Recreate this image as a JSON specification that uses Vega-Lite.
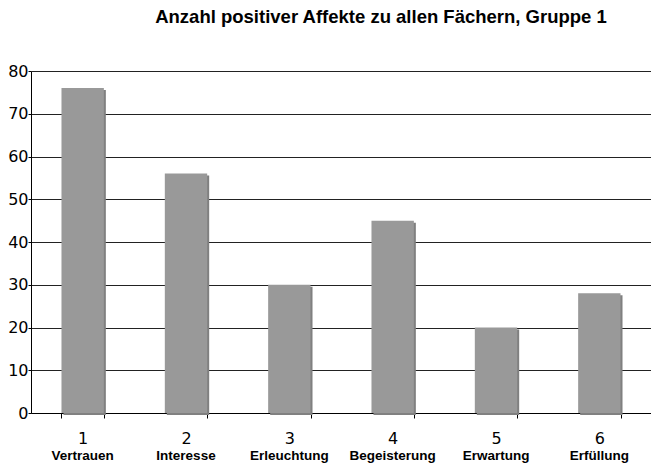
{
  "$schema": "https://vega.github.io/schema/vega-lite/v6.json",
  "width": 620,
  "height": 342,
  "autosize": "none",
  "padding": {"left": 31, "top": 71, "right": 0, "bottom": 51},
  "background": "white",
  "title": {
    "text": "Anzahl positiver Affekte zu allen Fächern, Gruppe 1",
    "font": "Liberation Sans",
    "fontSize": 18.5,
    "fontWeight": "bold",
    "color": "black",
    "anchor": "middle",
    "baseline": "alphabetic",
    "dx": 40,
    "offset": 22
  },
  "data": {
    "values": [
      {"num": "1", "name": "Vertrauen", "value": 76},
      {"num": "2", "name": "Interesse", "value": 56},
      {"num": "3", "name": "Erleuchtung", "value": 30},
      {"num": "4", "name": "Begeisterung", "value": 45},
      {"num": "5", "name": "Erwartung", "value": 20},
      {"num": "6", "name": "Erfüllung", "value": 28}
    ]
  },
  "config": {
    "view": {"stroke": null},
    "axis": {"labelFont": "DejaVu Sans", "labelColor": "black"}
  },
  "encoding": {
    "x": {
      "field": "num",
      "type": "nominal",
      "sort": null,
      "scale": {"paddingInner": 0.59, "paddingOuter": 0.295},
      "axis": {
        "title": null,
        "labelAngle": 0,
        "labelFontSize": 16,
        "tickBand": "extent",
        "tickSize": 5,
        "tickColor": "black",
        "domainColor": "black",
        "labelPadding": 12
      }
    }
  },
  "layer": [
    {
      "mark": {"type": "bar", "color": "#808080", "xOffset": 2, "yOffset": 2},
      "encoding": {
        "y": {
          "field": "value",
          "type": "quantitative",
          "scale": {"domain": [0, 80]},
          "axis": {
            "title": null,
            "values": [0, 10, 20, 30, 40, 50, 60, 70, 80],
            "labelOverlap": false,
            "labelFontSize": 16,
            "tickSize": 3,
            "labelPadding": 0,
            "tickColor": "black",
            "domainColor": "black",
            "gridColor": "#222222",
            "gridOpacity": 1
          }
        }
      }
    },
    {
      "mark": {"type": "bar", "color": "#999999"},
      "encoding": {
        "y": {"field": "value", "type": "quantitative"}
      }
    },
    {
      "mark": {
        "type": "text",
        "font": "Liberation Sans",
        "fontSize": 13.5,
        "fontWeight": "bold",
        "color": "black",
        "baseline": "alphabetic",
        "dy": 47
      },
      "encoding": {
        "y": {"datum": 0},
        "text": {"field": "name"}
      }
    }
  ]
}
